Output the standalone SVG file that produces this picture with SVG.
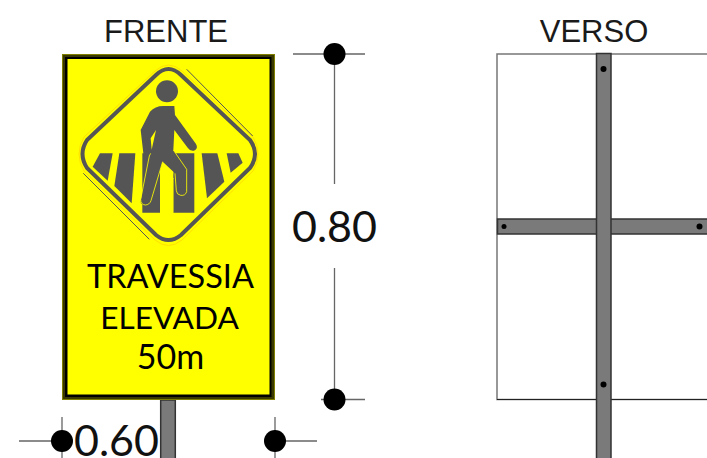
<svg xmlns="http://www.w3.org/2000/svg" width="707" height="458" viewBox="0 0 707 458">
<style>
.title{font-family:"Liberation Sans",Arial,sans-serif;font-size:31px;fill:#1a1a1a;text-anchor:middle}
.dim{font-family:Lato,"Noto Sans",sans-serif;font-size:43px;fill:#111}
.sign{font-family:Lato,"Noto Sans",sans-serif;font-size:32.500px;fill:#000;text-anchor:middle}
.ln{stroke:#666;stroke-width:1.300;fill:none}
.bar{fill:#7a7a7a;stroke:#333;stroke-width:1.500}
.ic{fill:#555}
</style>
<rect width="707" height="458" fill="#fff"/>
<text class="title" x="166" y="42">FRENTE</text>
<text class="title" x="594" y="42">VERSO</text>
<g id="post"><rect class="bar" x="160.700" y="400" width="14.600" height="60"/></g>
<g id="front-sign">
<rect x="62" y="54" width="213" height="346" fill="#808000"/>
<rect x="63" y="55" width="211" height="344" fill="#3a3a00"/>
<rect x="65" y="57" width="206.500" height="340" fill="#000"/>
<rect x="67.500" y="59" width="202" height="335.500" fill="#ff0"/>
<path d="M155 71Q168.500 59 182 71L253 137Q263 154 253 171L182 240Q168.500 251 155 240L84 171Q74 154 84 137Z" fill="none" stroke="#ffe100" stroke-width="1"/>
<path d="M156 75Q168.500 63 181 75L250 140Q260 154 250 168L181 235Q168.500 245 156 235L87 168Q78 154 87 140Z" fill="none" stroke="#555" stroke-width="4"/>
<path d="M186.700 69.300L252.700 136M83.300 173.300L149.300 239.300" fill="none" stroke="#555" stroke-width="1"/>
<g transform="translate(60 50) scale(.33333)">
<path class="ic" d="M120 310H158L143 392L98 350Z"/>
<path class="ic" d="M178 310H226L215 460L163 408Z"/>
<path class="ic" d="M247 310H300V488H247Z"/>
<path class="ic" d="M345 310H403V488H340V375Z"/>
<path class="ic" d="M425 310H472L493 395L441 445Z"/>
<path class="ic" d="M500 310H535L548 338L512 368Z"/>
<path d="M303 345L340 385V488H305L303 488Z" fill="#ff0"/>
</g>
<g transform="translate(130 70) scale(.33333)">
<circle class="ic" cx="111" cy="64" r="33"/>
<path d="M133 108L135 135L198 222Q206 236 192 242Q180 244 173 233L133 180L130 240L170 298L170 365Q166 378 152 376Q140 374 139 362L135 310L98 275L63 392Q55 408 42 406Q28 402 33 388L60 262L78 180L62 205L66 250Q62 262 50 260Q40 260 40 250L32 180L60 125Q75 108 100 108Z" fill="#555"/>
<path d="M62 250L58 258L32 388Q32 404 46 405Q58 405 63 392L98 275M130 240L170 298L170 365Q166 378 152 376Q140 374 139 362L135 310" fill="none" stroke="#ff0" stroke-width="2.500"/>
</g>
<text class="sign" x="170.500" y="288">TRAVESSIA</text>
<text class="sign" x="169.500" y="329" style="font-size:31.600px">ELEVADA</text>
<text class="sign" x="170.500" y="369" style="font-size:34px">50m</text>
</g>
<g id="back-sign">
<path d="M707 54H497V399.500H707" fill="#fff" stroke="#777" stroke-width="1.500"/>
<path d="M497 399.500H707" stroke="#222" stroke-width="1"/>
<rect class="bar" x="497.500" y="219" width="211" height="15"/>
<rect class="bar" x="596.500" y="53.500" width="14.500" height="406"/>
<g fill="#000"><circle cx="603.500" cy="69" r="3"/><circle cx="603.500" cy="384.500" r="3"/><circle cx="504" cy="226.500" r="2.500"/><circle cx="699.500" cy="226.500" r="3"/></g>
</g>
<g id="connectors">
<path class="ln" d="M293 54H365M321 399.500H365M334.500 54V184M334.500 268V400M19 441H62M62 417V458M275 417V458M275 441H317"/>
</g>
<g id="dim-080"><circle cx="334.500" cy="54" r="11"/><circle cx="334.500" cy="399.500" r="11"/><text class="dim" x="292" y="242">0.80</text></g>
<g id="dim-060"><circle cx="62" cy="441" r="11"/><circle cx="275" cy="441" r="11"/><text class="dim" x="74" y="456">0.60</text></g>
</svg>
